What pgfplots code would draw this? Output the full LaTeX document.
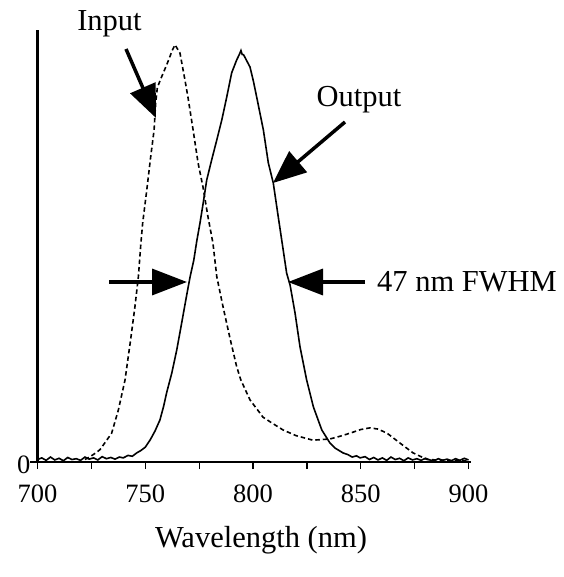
\documentclass[border=0pt]{standalone}
\usepackage{fontspec}
\setmainfont{Liberation Serif}
\usepackage{pgfplots}
\pgfplotsset{compat=1.18}
\usetikzlibrary{arrows.meta}

\pgfplotstableread{
nm     I
722.0  0.006
724.4  0.013
727.0  0.022
729.0  0.030
730.9  0.044
734.4  0.070
737.5  0.126
740.6  0.199
743.2  0.297
745.2  0.377
746.8  0.450
747.9  0.527
748.8  0.581
750.7  0.661
752.5  0.741
754.1  0.807
754.8  0.870
755.6  0.910
757.5  0.935
760.0  0.966
762.5  1.000
763.8  1.014
766.1  0.994
768.4  0.929
769.8  0.887
772.2  0.807
774.5  0.727
776.8  0.668
779.1  0.596
781.4  0.532
783.2  0.450
786.1  0.377
789.3  0.301
792.4  0.232
794.3  0.200
797.1  0.168
798.6  0.151
803.2  0.119
804.6  0.109
808.7  0.095
813.9  0.078
820.0  0.064
827.8  0.053
835.7  0.056
840.0  0.062
845.0  0.070
850.0  0.079
854.3  0.083
858.0  0.080
862.2  0.070
868.2  0.046
874.3  0.022
880.8  0.006
890.0  0.004
900.0  0.003
}\inputspec

\pgfplotstableread{
nm     O
700.0  0.006
702.0  0.010
704.0  0.004
706.0  0.012
708.0  0.005
710.0  0.009
712.0  0.003
714.0  0.011
716.0  0.006
718.0  0.008
720.0  0.004
722.0  0.012
724.0  0.007
726.0  0.010
728.0  0.005
730.0  0.013
732.0  0.008
734.0  0.011
736.0  0.007
738.0  0.012
739.8  0.010
742.0  0.016
744.0  0.014
746.0  0.022
748.0  0.028
750.0  0.036
752.2  0.053
754.5  0.075
756.8  0.102
758.5  0.135
759.9  0.168
762.3  0.216
764.6  0.272
766.9  0.338
769.2  0.405
770.8  0.450
772.5  0.490
773.9  0.537
775.4  0.581
776.9  0.630
778.5  0.685
780.8  0.734
783.2  0.783
785.5  0.831
787.8  0.887
790.1  0.946
792.4  0.977
793.6  0.990
794.4  1.000
795.0  0.990
795.6  0.990
798.6  0.960
800.2  0.925
801.7  0.887
804.8  0.807
807.1  0.727
809.4  0.678
811.7  0.596
813.3  0.540
815.6  0.459
817.2  0.430
819.5  0.362
821.8  0.280
824.9  0.199
828.0  0.134
831.9  0.078
835.7  0.046
838.0  0.034
841.8  0.022
844.0  0.018
846.0  0.012
848.0  0.015
849.7  0.010
852.0  0.013
854.0  0.006
856.0  0.011
858.0  0.005
860.0  0.010
862.0  0.004
864.0  0.012
866.0  0.006
868.0  0.009
870.0  0.003
872.0  0.010
874.0  0.005
876.0  0.008
878.0  0.004
880.0  0.009
882.0  0.005
884.0  0.003
886.0  0.008
888.0  0.004
890.0  0.007
892.0  0.003
894.0  0.008
896.0  0.004
898.0  0.009
900.0  0.005
}\outputspec

\begin{document}
\begin{tikzpicture}[font=\fontsize{30.5bp}{36bp}\selectfont]
  \useasboundingbox (-37.5bp,-115bp) rectangle (526.5bp,462bp);
  \begin{axis}[
    scale only axis,
    width=433.2bp,
    height=432bp,
    xmin=700, xmax=901,
    ymin=0, ymax=1.05,
    axis lines=left,
    axis line style={-, line width=2.5bp},
    xtick={700,750,800,850,900},
    minor x tick num=1,
    ytick={0},
    tick align=outside,
    major tick length=7bp,
    minor tick length=7bp,
    tick style={line width=1.2bp, black},
    /pgf/number format/assume math mode=true,
    tick label style={font=\fontsize{26.5bp}{30bp}\selectfont},
    xticklabel style={anchor=base, yshift=-33bp},
    yticklabel style={anchor=base east, inner sep=0pt, yshift=-11bp},
    xlabel={Wavelength (nm)},
    xlabel style={at={(axis description cs:0.516,-0.197)}, anchor=base},
    clip=false,
  ]
    \addplot[black, line width=1.6bp, dash pattern=on 4.5bp off 3bp] table[x=nm, y=I] {\inputspec};
    \addplot[black, line width=1.6bp] table[x=nm, y=O] {\outputspec};
  \end{axis}

  \node[anchor=base] at (72bp,431bp) {Input};
  \draw[line width=3.5bp, -{Triangle[length=33bp,width=27bp]}] (88.5bp,413bp) -- (118.5bp,344bp);

  \node[anchor=base] at (321.5bp,355bp) {Output};
  \draw[line width=3.5bp, -{Triangle[length=33bp,width=27bp]}] (307.5bp,340bp) -- (235.5bp,279bp);

  \draw[line width=3.5bp, -{Triangle[length=35bp,width=26bp]}] (71.5bp,180bp) -- (149.5bp,180bp);
  \draw[line width=3.5bp, -{Triangle[length=35bp,width=26bp]}] (327.5bp,180bp) -- (250.5bp,180bp);
  \node[anchor=base west, inner sep=0pt] at (339.5bp,170bp) {47 nm FWHM};
\end{tikzpicture}
\end{document}
